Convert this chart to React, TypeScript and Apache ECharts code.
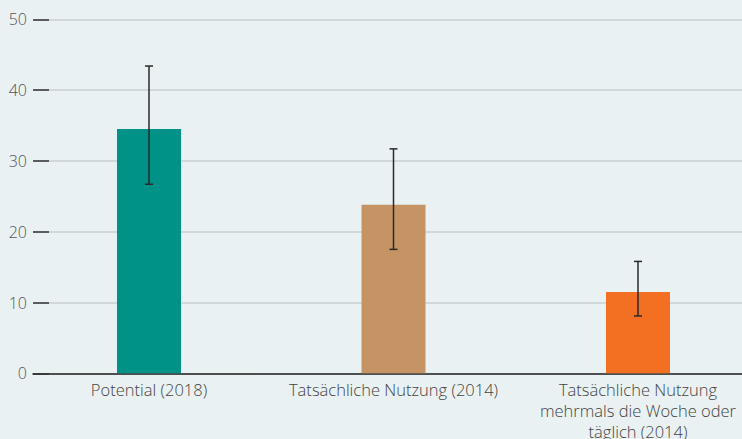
import React, { useEffect, useRef } from "react";
import * as echarts from "echarts";

const categories = [
  "Potential (2018)",
  "Tatsächliche Nutzung (2014)",
  "Tatsächliche Nutzung\nmehrmals die Woche oder\ntäglich (2014)",
];
const values = [34.5, 23.8, 11.5];
const errLow = [26.7, 17.5, 8.1];
const errHigh = [43.4, 31.7, 15.8];
const barColors = ["#009187", "#c69464", "#f36f21"];
const yTicks = [0, 10, 20, 30, 40, 50];

export default function App() {
  const ref = useRef<HTMLDivElement>(null);
  useEffect(() => {
    if (!ref.current) return;
    const chart = echarts.init(ref.current, undefined, { renderer: "svg" });
    const font = "'Open Sans', sans-serif";
    chart.setOption({
      animation: false,
      backgroundColor: "#e9f1f2",
      grid: [
        { left: 33, right: 0, top: 19.3, bottom: 65.7, outerBoundsMode: "none", containLabel: false },
        { left: 26.75, width: 733.5, top: 19.3, bottom: 65.7, outerBoundsMode: "none", containLabel: false },
      ],
      xAxis: [
        {
          type: "value",
          gridIndex: 0,
          min: 0,
          max: 1,
          axisLabel: { show: false },
          axisTick: { show: false },
          splitLine: { show: false },
          axisLine: { show: true, lineStyle: { color: "#222", width: 1.5 } },
        },
        {
          type: "category",
          gridIndex: 1,
          data: categories,
          axisLine: { show: false },
          axisTick: { show: false },
          axisLabel: {
            color: "#444",
            fontFamily: font,
            fontWeight: 300,
            fontSize: 16.5,
            lineHeight: 21,
            margin: 6,
            interval: 0,
          },
        },
      ],
      yAxis: [
        {
          type: "value",
          gridIndex: 0,
          min: yTicks[0],
          max: yTicks[yTicks.length - 1],
          interval: 10,
          axisLine: { show: false },
          axisTick: {
            show: true,
            inside: true,
            length: 16,
            lineStyle: { color: "#333", width: 1.5 },
          },
          axisLabel: {
            color: "#555",
            fontFamily: font,
            fontWeight: 300,
            fontSize: 16,
            margin: 6,
          },
          splitLine: { show: true, lineStyle: { color: "#c8cfd1", width: 1.5 } },
        },
        {
          type: "value",
          gridIndex: 1,
          min: 0,
          max: 50,
          show: false,
          splitLine: { show: false },
        },
      ],
      series: [
        {
          type: "bar",
          xAxisIndex: 1,
          yAxisIndex: 1,
          barWidth: 64,
          data: values.map((v, i) => ({ value: v, itemStyle: { color: barColors[i] } })),
          z: 2,
        },
        {
          type: "custom",
          xAxisIndex: 1,
          yAxisIndex: 1,
          z: 3,
          data: categories.map((_, i) => [i, errLow[i], errHigh[i]]),
          renderItem: (params: any, api: any) => {
            const x = api.value(0);
            const lo = api.coord([x, api.value(1)]);
            const hi = api.coord([x, api.value(2)]);
            const style = { stroke: "#2a2a2a", lineWidth: 1.5 };
            const hw = 4;
            return {
              type: "group",
              children: [
                { type: "line", shape: { x1: lo[0], y1: lo[1], x2: hi[0], y2: hi[1] }, style },
                { type: "line", shape: { x1: hi[0] - hw, y1: hi[1], x2: hi[0] + hw, y2: hi[1] }, style },
                { type: "line", shape: { x1: lo[0] - hw, y1: lo[1], x2: lo[0] + hw, y2: lo[1] }, style },
              ],
            };
          },
        },
      ],
    });
    return () => chart.dispose();
  }, []);
  return <div ref={ref} style={{ width: 742, height: 439, position: "absolute", left: 0, top: 0 }} />;
}
